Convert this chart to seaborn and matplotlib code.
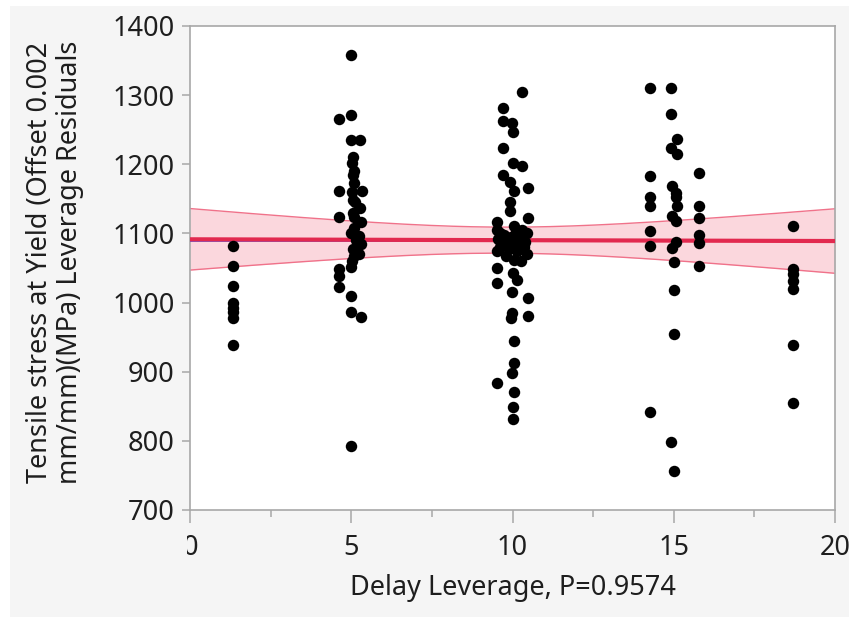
import numpy as np
import pandas as pd
import matplotlib
matplotlib.use("Agg")
import matplotlib.pyplot as plt
from matplotlib.ticker import MultipleLocator
import seaborn as sns

# Delay leverage (x) and tensile-stress leverage residuals (y), grouped by delay level
lev_x_g1 = [1.32] * 8
res_y_g1 = [1082, 1053, 1024, 1000, 992, 986, 978, 938]

lev_x_g2 = [4.99, 4.99, 4.62, 4.99, 5.27, 5.05, 5.02, 5.08, 5.05, 5.10,
            4.62, 5.33, 5.02, 5.05, 5.12, 5.27, 5.05, 4.62, 5.08, 5.30,
            5.10, 5.00, 5.25, 5.15, 5.30, 5.05, 5.25, 5.10, 5.02, 5.00,
            4.62, 4.62, 4.62, 4.99, 4.99, 5.30, 4.99]
res_y_g2 = [1358, 1272, 1266, 1235, 1235, 1210, 1202, 1190, 1185, 1173,
            1161, 1161, 1160, 1149, 1145, 1137, 1130, 1124, 1124, 1116,
            1108, 1100, 1097, 1090, 1085, 1078, 1070, 1067, 1060, 1051,
            1048, 1038, 1022, 1010, 987, 979, 793]

lev_x_g3 = [10.29, 9.70, 9.70, 9.98, 10.00, 9.70, 10.00, 10.29, 9.70, 9.92,
            10.48, 10.05, 9.92, 9.92, 10.48, 9.51, 10.05,
            9.51, 9.60, 9.75, 9.95, 10.10, 10.30, 10.45, 9.55, 9.85, 10.00,
            10.20, 10.40, 9.60, 9.90, 10.15, 10.35, 10.45, 9.80, 10.05, 10.25,
            9.51, 9.51, 9.51, 10.00, 10.15, 9.98, 10.48, 9.98, 9.95, 10.48,
            10.05, 10.05, 9.98, 9.51, 10.05, 10.00, 10.00]
res_y_g3 = [1305, 1281, 1263, 1260, 1246, 1224, 1202, 1198, 1184, 1174,
            1166, 1162, 1145, 1132, 1123, 1116, 1111,
            1105, 1100, 1098, 1095, 1102, 1105, 1100, 1092, 1088, 1085,
            1090, 1088, 1080, 1078, 1075, 1080, 1070, 1068, 1062, 1060,
            1074, 1050, 1028, 1043, 1033, 1016, 1007, 985, 978, 981,
            944, 913, 898, 883, 870, 849, 832]

lev_x_g4 = [14.27] * 7 + [14.93, 14.93, 15.10, 14.93, 15.10, 14.96, 15.06, 15.06, 15.10,
                         14.96, 15.06, 15.06, 14.96, 15.00, 15.00, 15.00, 14.93, 15.00] + [15.77] * 6
res_y_g4 = [1311, 1183, 1153, 1140, 1104, 1082, 842,
            1311, 1273, 1236, 1224, 1215, 1169, 1159, 1152, 1140,
            1125, 1118, 1087, 1079, 1058, 1018, 954, 799, 756,
            1188, 1140, 1123, 1098, 1086, 1053]

lev_x_g5 = [18.69] * 7
res_y_g5 = [1111, 1048, 1041, 1031, 1019, 939, 855]

# Fitted leverage line at the two ends of the axis
fit_x = [0, 20]
fit_y = [1091.5, 1089.0]

x_ticks = [0, 5, 10, 15, 20]
y_ticks = [700, 800, 900, 1000, 1100, 1200, 1300, 1400]

df = pd.DataFrame({
    "lev": lev_x_g1 + lev_x_g2 + lev_x_g3 + lev_x_g4 + lev_x_g5,
    "res": res_y_g1 + res_y_g2 + res_y_g3 + res_y_g4 + res_y_g5,
})

# 95% confidence band around the fitted line
x = df["lev"].to_numpy(float)
y = df["res"].to_numpy(float)
n = len(x)
slope = (fit_y[1] - fit_y[0]) / (fit_x[1] - fit_x[0])
intercept = fit_y[0] - slope * fit_x[0]
resid = y - (intercept + slope * x)
s = np.sqrt(np.sum(resid ** 2) / (n - 2))
sxx = np.sum((x - x.mean()) ** 2)
t_crit = 1.976
grid = np.linspace(fit_x[0], fit_x[1], 200)
fit = intercept + slope * grid
half = t_crit * s * np.sqrt(1.0 / n + (grid - x.mean()) ** 2 / sxx)
fit_df = pd.DataFrame({"lev": fit_x, "fit": fit_y})
mean_df = pd.DataFrame({"lev": fit_x, "mean": [y.mean(), y.mean()]})

sns.set_theme(style="white")
plt.rcParams["font.family"] = ["Noto Sans", "DejaVu Sans"]

W, H = 849, 617
FS = 19.5
TXT = "#1e1e1e"
PANEL = "#f5f5f5"

fig = plt.figure(figsize=(W / 100, H / 100), dpi=100, facecolor="white")
# light grey report panel behind the plot
fig.patches.append(plt.Rectangle((10 / W, 0), 1, 1 - 6 / H, transform=fig.transFigure,
                                 facecolor=PANEL, edgecolor="none", zorder=-10))

ax = fig.add_axes([190 / W, 1 - 510 / H, (835 - 190) / W, (510 - 26) / H])
ax.set_facecolor("white")

ax.fill_between(grid, fit - half, fit + half, color="#fbd7dd", lw=0, zorder=1)
sns.lineplot(x=grid, y=fit - half, ax=ax, color="#f0728a", lw=1.0, zorder=2)
sns.lineplot(x=grid, y=fit + half, ax=ax, color="#f0728a", lw=1.0, zorder=2)
sns.lineplot(data=mean_df, x="lev", y="mean", ax=ax, color="#5a5ad8", lw=1.3, zorder=3)
sns.lineplot(data=fit_df, x="lev", y="fit", ax=ax, color="#e2294f", lw=3.0, zorder=4)
sns.scatterplot(data=df, x="lev", y="res", ax=ax, color="black", s=68,
                edgecolor="black", linewidth=0, zorder=5)

ax.set_xlim(0, 20)
ax.set_ylim(700, 1400)
ax.set_xticks(x_ticks)
ax.set_yticks(y_ticks)
ax.xaxis.set_minor_locator(MultipleLocator(2.5))

for sp in ax.spines.values():
    sp.set_color("#a8a8a8")
    sp.set_linewidth(1.2)

ax.tick_params(axis="x", which="major", direction="out", length=9, width=1.1,
               color="#a8a8a8", labelsize=FS, labelcolor=TXT, pad=8, bottom=True)
ax.tick_params(axis="x", which="minor", direction="out", length=5, width=1.1,
               color="#a8a8a8", bottom=True)
ax.tick_params(axis="y", which="major", direction="out", length=6, width=1.1,
               color="#a8a8a8", labelsize=FS, labelcolor=TXT, pad=5, left=True)

ax.set_xlabel("Delay Leverage, P=0.9574", fontsize=FS, color=TXT, labelpad=9)
ax.set_ylabel("")
fig.text(55 / W, 1 - 262 / H,
         "Tensile stress at Yield (Offset 0.002\nmm/mm)(MPa) Leverage Residuals",
         rotation=90, ha="center", va="center", multialignment="center",
         fontsize=FS, color=TXT, linespacing=1.1)

# the axis-title strip hides the left half of the "0" tick label
ax.add_patch(plt.Rectangle((140 / W, 1 - 575 / H), 47 / W, 50 / H,
                           transform=fig.transFigure, facecolor=PANEL,
                           edgecolor="none", clip_on=False, zorder=20))

fig.savefig("out.png", dpi=100, facecolor=fig.get_facecolor())
